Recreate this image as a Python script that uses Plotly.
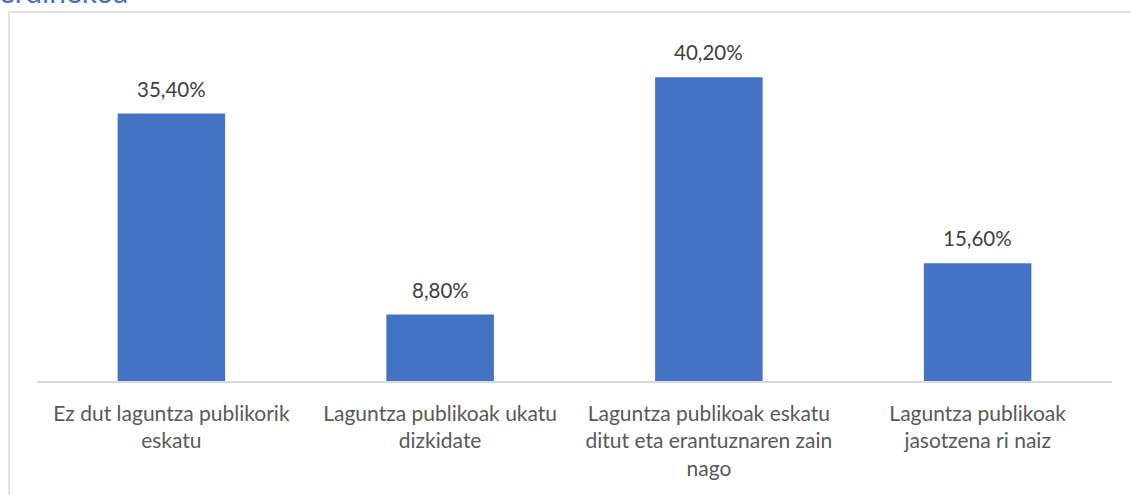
import plotly.graph_objects as go

categories = [
    "Ez dut laguntza publikorik<br>eskatu",
    "Laguntza publikoak ukatu<br>dizkidate",
    "Laguntza publikoak eskatu<br>ditut eta erantuznaren zain<br>nago",
    "Laguntza publikoak<br>jasotzena ri naiz",
]
values = [35.4, 8.8, 40.2, 15.6]
value_labels = ["35,40%", "8,80%", "40,20%", "15,60%"]
title_fragment = "erdiñekoa"

FONT = "Lato"

fig = go.Figure()
fig.add_trace(go.Bar(
    x=categories, y=values,
    marker=dict(color="#4472C4", line=dict(width=0)),
    width=0.4,
    hoverinfo="skip",
))

for c, v, t in zip(categories, values, value_labels):
    fig.add_annotation(x=c, y=v, text=t, showarrow=False, yanchor="bottom",
                       yshift=11, font=dict(family=FONT, size=20.5, color="#404040"))

fig.add_annotation(xref="paper", yref="paper", x=(-3 - 37) / 1075, y=1 + (41 - 11) / 340,
                   xanchor="left", yanchor="bottom", text=title_fragment, showarrow=False,
                   font=dict(family=FONT, size=30, color="#4472C4"))

fig.add_shape(type="rect", xref="paper", yref="paper",
              x0=-28 / 1075, x1=1.1, y0=-0.5, y1=1 + 29 / 340,
              line=dict(color="#D9D9D9", width=1.5), fillcolor="rgba(0,0,0,0)", layer="below")

fig.update_layout(
    width=1131, height=495,
    margin=dict(l=37, r=19, t=41, b=114),
    paper_bgcolor="white", plot_bgcolor="white",
    showlegend=False,
    bargap=0.6,
    xaxis=dict(showline=True, linecolor="#D9D9D9", linewidth=1.5, ticks="",
               tickfont=dict(family=FONT, size=21, color="#595959"),
               showgrid=False, zeroline=False, ticklabelstandoff=13),
    yaxis=dict(range=[0, 45], visible=False, showgrid=False, zeroline=False),
)

fig.write_html("out.html", config={"displayModeBar": False},
               post_script="document.body.style.margin='0';document.body.style.overflow='hidden';")
